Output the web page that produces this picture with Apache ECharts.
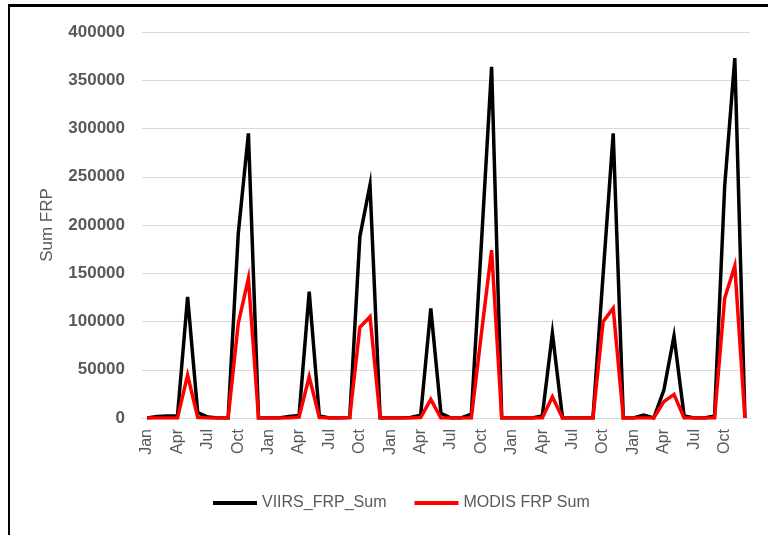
<!DOCTYPE html>
<html>
<head>
<meta charset="utf-8">
<script src="https://cdn.jsdelivr.net/npm/echarts@6/dist/echarts.min.js"></script>
<style>
html,body{margin:0;padding:0;background:#fff;}
#c{width:768px;height:535px;}
</style>
</head>
<body>
<div id="c"></div>
<script>
var monthNames = ['Jan','Feb','Mar','Apr','May','Jun','Jul','Aug','Sep','Oct','Nov','Dec'];
var yearsCount = 5;
var viirsY1 = [0, 1500, 2000, 2000, 125500, 5500, 1000, 0, 0, 191000, 295000, 0];
var viirsY2 = [0, 0, 1500, 2500, 131000, 2000, 0, 0, 500, 188000, 241500, 0];
var viirsY3 = [0, 0, 500, 3000, 113500, 4800, 0, 0, 4000, 182000, 364000, 0];
var viirsY4 = [0, 0, 0, 2000, 88000, 0, 0, 0, 0, 148000, 295000, 0];
var viirsY5 = [0, 3000, 0, 29000, 85000, 2000, 0, 0, 2000, 240000, 373000, 0];
var modisY1 = [0, 0, 0, 0, 44500, 500, 0, 0, 0, 98000, 144700, 0];
var modisY2 = [0, 0, 0, 1000, 42800, 500, 0, 0, 500, 94000, 105000, 0];
var modisY3 = [0, 0, 0, 500, 19300, 0, 0, 0, 0, 88000, 174000, 0];
var modisY4 = [0, 0, 0, 0, 22000, 0, 0, 0, 0, 99800, 113700, 0];
var modisY5 = [0, 0, 0, 17000, 24500, 0, 0, 0, 0, 124000, 157500, 0];

var categories = [];
for (var y = 0; y < yearsCount; y++) { categories = categories.concat(monthNames); }
var viirs = [].concat(viirsY1, viirsY2, viirsY3, viirsY4, viirsY5);
var modis = [].concat(modisY1, modisY2, modisY3, modisY4, modisY5);

var chart = echarts.init(document.getElementById('c'));
chart.setOption({
  animation: false,
  backgroundColor: '#fff',
  graphic: [
    {type: 'line', shape: {x1: 9, y1: 4, x2: 9, y2: 535}, style: {stroke: '#000', lineWidth: 2}},
    {type: 'line', shape: {x1: 8, y1: 5.5, x2: 768, y2: 5.5}, style: {stroke: '#000', lineWidth: 3}}
  ],
  grid: {left: 142, right: 18, top: 32, bottom: 117, containLabel: false},
  legend: {
    top: 490,
    left: 208,
    itemWidth: 44,
    itemHeight: 4,
    itemGap: 28,
    icon: 'rect',
    textStyle: {color: '#595959', fontSize: 16, fontFamily: 'Liberation Sans Narrow, Liberation Sans, sans-serif'},
    data: ['VIIRS_FRP_Sum', 'MODIS FRP Sum']
  },
  xAxis: {
    type: 'category',
    data: categories,
    boundaryGap: true,
    axisLine: {show: true, lineStyle: {color: '#d9d9d9', width: 1}},
    axisTick: {show: false},
    axisLabel: {
      interval: 2,
      rotate: 90,
      color: '#595959',
      fontSize: 16,
      fontFamily: 'Liberation Sans, sans-serif',
      margin: 11
    },
    splitLine: {show: false}
  },
  yAxis: {
    type: 'value',
    min: 0,
    max: 400000,
    interval: 50000,
    name: 'Sum FRP',
    nameLocation: 'middle',
    nameGap: 86,
    nameTextStyle: {color: '#595959', fontSize: 17, fontFamily: 'Liberation Sans, sans-serif'},
    axisLine: {show: false},
    axisTick: {show: false},
    axisLabel: {
      color: '#595959', fontSize: 17, fontWeight: 'bold',
      fontFamily: 'Liberation Sans, sans-serif', margin: 17,
      formatter: function (v) { return String(v); }
    },
    splitLine: {show: true, lineStyle: {color: '#d9d9d9', width: 1}}
  },
  series: [
    {
      name: 'VIIRS_FRP_Sum',
      type: 'line',
      data: viirs,
      symbol: 'none',
      itemStyle: {color: '#000000'},
      lineStyle: {color: '#000000', width: 3.5, join: 'miter'}
    },
    {
      name: 'MODIS FRP Sum',
      type: 'line',
      data: modis,
      symbol: 'none',
      itemStyle: {color: '#ff0000'},
      lineStyle: {color: '#ff0000', width: 3.5, join: 'miter'}
    }
  ]
});
</script>
</body>
</html>
